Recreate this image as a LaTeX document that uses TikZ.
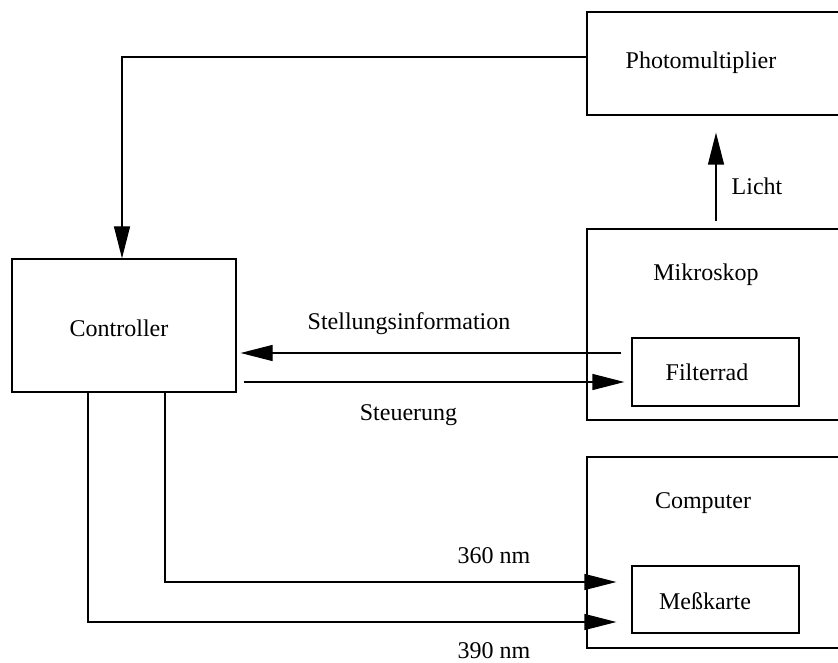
\documentclass[tikz,border=0pt]{standalone}
\usepackage{fontspec}
\setmainfont{Liberation Serif}
\usetikzlibrary{arrows.meta}
\begin{document}
\begin{tikzpicture}[
    x=1pt, y=-1pt,
    font=\fontsize{24}{28}\selectfont,
    box/.style={rectangle, draw, line width=1.2pt, inner sep=0pt},
    arrow/.style={-{Triangle[length=32pt, width=16pt]}, line width=1.2pt}
]
    \useasboundingbox (0,0) rectangle (838,663);
    \clip (0,0) rectangle (838,663);

    % Boxes
    \node[box, minimum width=263pt, minimum height=103pt] (pm) at (718.5, 63.5) {};
    \node at (701, 63) {Photomultiplier};
    \node[box, minimum width=263pt, minimum height=191pt] (mik) at (718.5, 324.5) {};
    \node at (706, 275) {Mikroskop};
    \node[box, minimum width=167pt, minimum height=68pt] (filt) at (715.5, 372) {};
    \node at (707, 372) {Filterrad};
    \node[box, minimum width=263pt, minimum height=191pt] (comp) at (718.5, 552.5) {};
    \node at (703, 503) {Computer};
    \node[box, minimum width=167pt, minimum height=67pt] (mess) at (715.5, 599.5) {};
    \node at (705, 601) {Meßkarte};
    \node[box, minimum width=224pt, minimum height=133pt] (ctrl) at (124, 325.5) {};
    \node at (119, 328) {Controller};

    % Signal from photomultiplier
    \draw[arrow] (pm.west |- 0,57) -| (ctrl.north -| 122,0);

    % Light path
    \draw[arrow, shorten <=7pt, shorten >=17pt] (mik.north -| 716,0) -- (pm.south -| 716,0);
    \node at (757, 186) {Licht};

    % Filter wheel
    \draw[arrow, shorten <=10pt, shorten >=4pt] (filt.west |- 0,353) -- (ctrl.east |- 0,353);
    \node at (409, 324) {Stellungsinformation};
    \draw[arrow, shorten <=7pt, shorten >=7pt] (ctrl.east |- 0,382) -- (filt.west |- 0,382);
    \node at (408.5, 415) {Steuerung};

    % Wavelength lines
    \draw[arrow, shorten >=15pt] (ctrl.south -| 165,0) |- (mess.west |- 0,582);
    \node at (494, 556) {360 nm};
    \draw[arrow, shorten >=15pt] (ctrl.south -| 88,0) |- (mess.west |- 0,622);
    \node[inner sep=0.5pt] at (494, 651) {390 nm};
\end{tikzpicture}
\end{document}
